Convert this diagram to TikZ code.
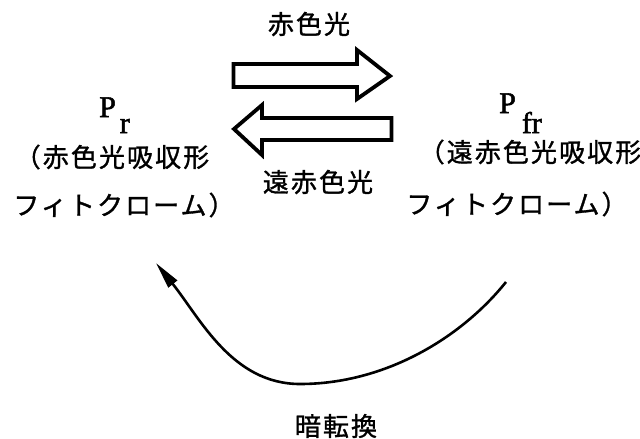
\documentclass[tikz,border=0pt]{standalone}
\usepackage{fontspec}
\newfontfamily\cjk[LetterSpace=8,FakeBold=1.2]{Noto Sans CJK JP}
\newfontfamily\latn[FakeBold=1.8]{Liberation Serif}
\usetikzlibrary{arrows.meta}
\begin{document}
\begin{tikzpicture}[x=1pt,y=-1pt,
  blockarrow/.style={draw=black, line width=3.8pt, line join=miter, fill=white},
  jp/.style={font=\cjk\fontsize{26}{30}\selectfont, inner sep=0pt},
  lat/.style={font=\latn\fontsize{30}{32}\selectfont, inner sep=0pt},
  darkcurve/.style={draw=black, line width=2.6pt, -{Triangle[length=27pt,width=11pt]}}]
\useasboundingbox (0,0) rectangle (640,439);
% labels
\node[jp] (red) at (309,24) {赤色光};
\node[jp] (farred) at (318,182) {遠赤色光};
\node[jp] (dark) at (336,426) {暗転換};
\node[jp] (prl1) at (112,157) {（赤色光吸収形};
\node[jp] (prl2) at (124,205) {フィトクローム）};
\node[jp] (pfrl1) at (530,152) {（遠赤色光吸収形};
\node[jp] (pfrl2) at (517,204) {フィトクローム）};
\node[lat, anchor=base west] (pr) at (99,117) {P\kern4pt\raisebox{-16pt}{r}};
\node[lat, anchor=base west] (pfr) at (499,113) {P\kern6pt\raisebox{-20pt}{fr}};
% block arrows
\draw[blockarrow] (233.5,64) -- (357,64) -- (357,50) -- (390,76) -- (357,99) -- (357,87) -- (233.5,87) -- cycle;
\draw[blockarrow] (391.5,118) -- (262,118) -- (262,105) -- (234,129) -- (262,155) -- (262,140) -- (391.5,140) -- cycle;
% dark reversion curve
\coordinate (cstart) at (506,282);
\coordinate (cmid) at (300,384);
\coordinate (cend) at (156,263);
\draw[darkcurve] (cstart) .. controls (461,338) and (385,384) .. (cmid) .. controls (232,384) and (200,318) .. (cend);
\end{tikzpicture}
\end{document}
